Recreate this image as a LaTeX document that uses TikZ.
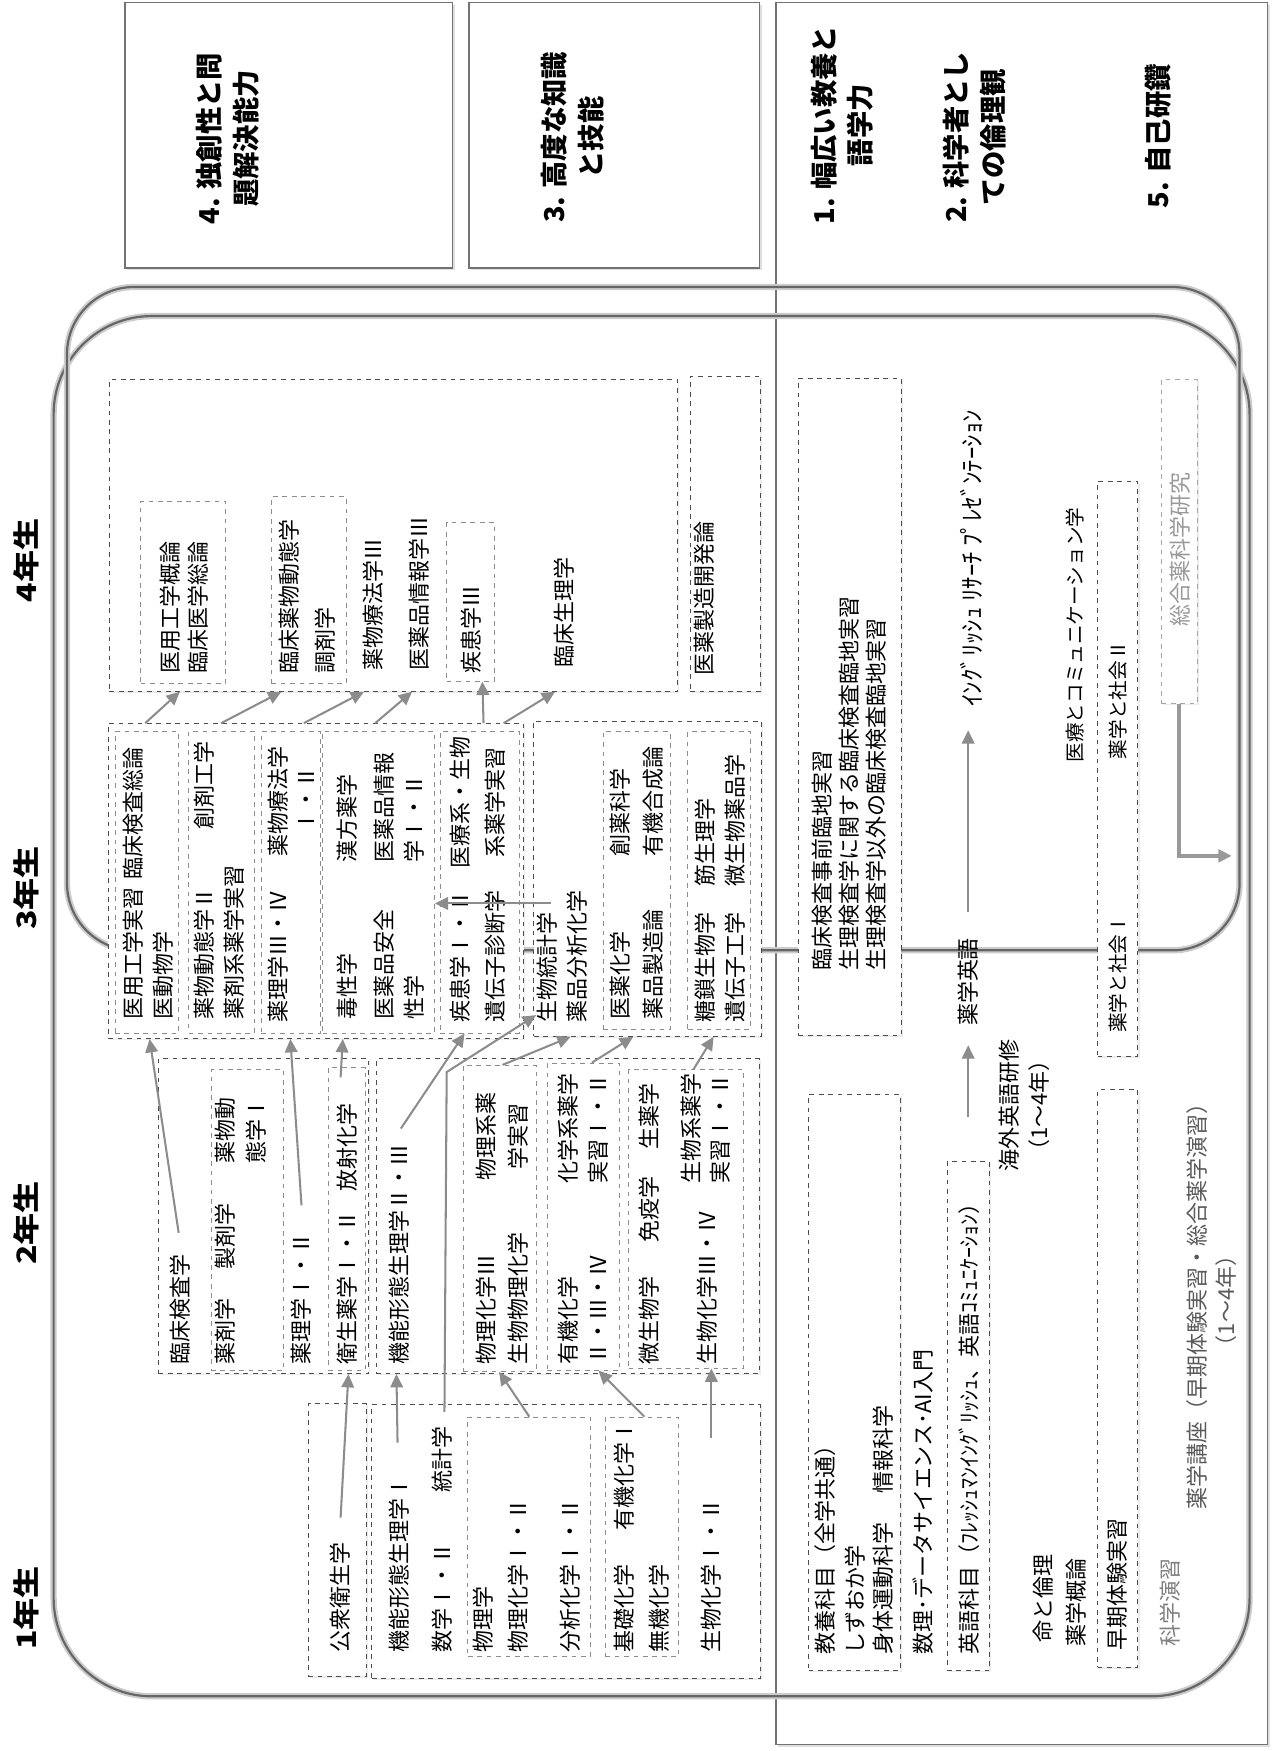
\documentclass[tikz,border=0pt]{standalone}
\usepackage{fontspec}
\setmainfont{Noto Sans CJK JP}
\usetikzlibrary{arrows.meta,fit,calc,shadows}

\newcommand\hdfont{\fontsize{17.4}{23.4}\selectfont\bfseries}
\newcommand\yrfont{\fontsize{17}{20}\selectfont\bfseries}
\newcommand\smfont{\fontsize{12.5}{15}\selectfont}

\begin{document}
\begin{tikzpicture}[x=0.025cm,y=-0.025cm,>={Triangle[length=8.5pt,width=8pt]},
  every node/.style={font=\fontsize{14}{19}\selectfont,inner sep=0pt},
  txt/.style={rotate=90,anchor=west},
  ctr/.style={rotate=90,anchor=center,align=center},
  goal/.style={draw=black!55,line width=0.8pt,fill=white,
    drop shadow={opacity=0.25,shadow xshift=1.5pt,shadow yshift=-1.5pt}},
  ybox/.style={draw=black!70,dashed,line width=0.6pt,fill=white,
    drop shadow={opacity=0.15,shadow xshift=1pt,shadow yshift=-1pt}},
  sbox/.style={draw=black!45,dashed,line width=0.6pt,fill=white},
  yrframe/.style={draw=black!60,line width=1.4pt,
    preaction={draw=black!20,line width=4pt}},
  flow/.style={->,draw=black!45,line width=1.3pt},
  dim/.style={text=black!50}]
\useasboundingbox (0,0) rectangle (1139,1568);

% goals
\node[goal,fit={(112,2) (405,240)}] (goalA) {};
\node[goal,fit={(420,2) (680,240)}] (goalB) {};
\node[goal,fit={(695,2) (1135,1562)}] (goalC) {};
\node[ctr,font=\hdfont] (g4) at (204,124) {4. 独創性と問\\題解決能力};
\node[ctr,font=\hdfont] (g3) at (513,123) {3. 高度な知識\\と技能};
\node[ctr,font=\hdfont] (g1) at (754,112) {1. 幅広い教養と\\語学力};
\node[ctr,font=\hdfont] (g2) at (873,123) {2. 科学者とし\\ての倫理観};
\node[ctr,font=\hdfont] (g5) at (1037,122) {5. 自己研鑽};

% year frames
\draw[yrframe,rounded corners=2.2cm] (48,283) rectangle (1119,1519);
\draw[yrframe,rounded corners=1.5cm] (60,257) rectangle (1110,851);

\node[ctr,font=\yrfont] (yr4) at (24,502) {\scalebox{1.2}[1]{4年生}};
\node[ctr,font=\yrfont] (yr3) at (24,795) {\scalebox{1.2}[1]{3年生}};
\node[ctr,font=\yrfont] (yr2) at (24,1095) {\scalebox{1.2}[1]{2年生}};
\node[ctr,font=\yrfont] (yr1) at (24,1440) {\scalebox{1.2}[1]{1年生}};

% 4th year
\node[ybox,fit={(98,340) (607,619)}] (y4) {};
\node[ybox,fit={(618,337) (681,619)}] (y4dev) {};
\node[sbox,fit={(126,449) (202,612)}] (y4a) {};
\node[sbox,fit={(243,445) (310,612)}] (y4b) {};
\node[sbox,fit={(400,468) (443,610)}] (y4c) {};
\node[txt] (t41) at (152,603) {医用工学概論};
\node[txt] (t42) at (177,603) {臨床医学総論};
\node[txt] (t43) at (259,603) {臨床薬物動態学};
\node[txt] (t44) at (291,603) {調剤学};
\node[txt] (t45) at (334,601) {薬物療法学Ⅲ};
\node[txt] (t46) at (375,601) {医薬品情報学Ⅲ};
\node[txt] (t47) at (422,603) {疾患学Ⅲ};
\node[txt] (t48) at (505,598) {臨床生理学};
\node[txt] (t49) at (631,605) {医薬製造開発論};

% 3rd year
\node[ybox,fit={(97,648) (469,930)}] (y3L) {};
\node[ybox,fit={(478,646) (682,928)}] (y3R) {};
\node[sbox,fit={(103,655) (160,925)}] (y3a) {};
\node[sbox,fit={(169,655) (228,925)}] (y3b) {};
\node[sbox,fit={(234,655) (287,925)}] (y3c) {};
\node[sbox,fit={(289,655) (389,925)}] (y3d) {};
\node[sbox,fit={(394,655) (465,925)}] (y3e) {};
\node[sbox,fit={(540,655) (600,922)}] (y3f) {};
\node[sbox,fit={(616,655) (672,922)}] (y3g) {};
\node[txt] (t31) at (119,913) {医用工学実習};
\node[txt] (t32) at (119,788) {臨床検査総論};
\node[txt] (t33) at (146,913) {医動物学};
\node[txt] (t34) at (183,913) {薬物動態学Ⅱ};
\node[txt] (t35) at (183,743) {創剤工学};
\node[txt] (t36) at (210,913) {薬剤系薬学実習};
\node[txt] (t37) at (249,916) {薬理学Ⅲ・Ⅳ};
\node[txt] (t38) at (249,767) {薬物療法学};
\node[ctr] (t39) at (274,716) {Ⅰ・Ⅱ};
\node[txt] (t310) at (311,913) {毒性学};
\node[txt] (t311) at (344,913) {医薬品安全};
\node[txt] (t312) at (371,913) {性学};
\node[txt] (t313) at (311,773) {漢方薬学};
\node[txt] (t314) at (344,773) {医薬品情報};
\node[txt] (t315) at (371,773) {学Ⅰ・Ⅱ};
\node[txt] (t316) at (412,916) {疾患学Ⅰ・Ⅱ};
\node[txt] (t317) at (443,916) {遺伝子診断学};
\node[ctr] (t318) at (412,719) {医療系・生物};
\node[ctr] (t319) at (443,719) {系薬学実習};
\node[txt] (t320) at (490,916) {生物統計学};
\node[txt] (t321) at (517,916) {薬品分析化学};
\node[txt] (t322) at (555,913) {医薬化学};
\node[txt] (t323) at (555,767) {創薬科学};
\node[txt] (t324) at (585,913) {薬品製造論};
\node[txt] (t325) at (585,767) {有機合成論};
\node[txt] (t326) at (631,916) {糖鎖生物学};
\node[txt] (t327) at (631,794) {筋生理学};
\node[txt] (t328) at (658,916) {遺伝子工学};
\node[txt] (t329) at (658,794) {微生物薬品学};

% 2nd year
\node[ybox,fit={(142,948) (330,1230)}] (y2L) {};
\node[ybox,fit={(337,948) (680,1230)}] (y2R) {};
\node[sbox,fit={(189,958) (254,1227)}] (y2a) {};
\node[sbox,fit={(294,956) (327,1227)}] (y2b) {};
\node[sbox,fit={(415,954) (480,1228)}] (y2c) {};
\node[sbox,fit={(490,952) (555,1227)}] (y2d) {};
\node[sbox,fit={(563,958) (666,1225)}] (y2e) {};
\node[txt] (t21) at (161,1222) {臨床検査学};
\node[txt] (t22) at (202,1222) {薬剤学};
\node[txt] (t23) at (202,1137) {製剤学};
\node[txt] (t24) at (202,1042) {薬物動};
\node[txt] (t25) at (229,1042) {態学Ⅰ};
\node[txt] (t26) at (270,1222) {薬理学Ⅰ・Ⅱ};
\node[txt] (t27) at (311,1222) {衛生薬学Ⅰ・Ⅱ};
\node[txt] (t28) at (311,1067) {放射化学};
\node[txt] (t29) at (357,1222) {機能形態生理学Ⅱ・Ⅲ};
\node[txt] (t210) at (435,1222) {物理化学Ⅲ};
\node[txt] (t211) at (464,1222) {生物物理化学};
\node[ctr] (t212) at (435,1018) {物理系薬};
\node[ctr] (t213) at (464,1018) {学実習};
\node[txt] (t214) at (509,1222) {有機化学};
\node[txt] (t215) at (536,1222) {Ⅱ・Ⅲ・Ⅳ};
\node[txt] (t216) at (509,1060) {化学系薬学};
\node[txt] (t217) at (536,1060) {実習Ⅰ・Ⅱ};
\node[txt] (t218) at (581,1222) {微生物学};
\node[txt] (t219) at (581,1113) {免疫学};
\node[txt] (t220) at (581,1030) {生薬学};
\node[txt] (t221) at (633,1222) {生物化学Ⅲ・Ⅳ};
\node[txt] (t222) at (619,1060) {生物系薬学};
\node[txt] (t223) at (645,1060) {実習Ⅰ・Ⅱ};

% 1st year
\node[ybox,fit={(276,1257) (328,1501)}] (y1pub) {};
\node[ybox,fit={(333,1258) (681,1503)}] (y1) {};
\node[sbox,fit={(419,1269) (529,1483)}] (y1a) {};
\node[sbox,fit={(542,1269) (608,1483)}] (y1b) {};
\node[txt] (t11) at (305,1480) {公衆衛生学};
\node[txt] (t12) at (357,1480) {機能形態生理学Ⅰ};
\node[txt] (t13) at (396,1480) {数学Ⅰ・Ⅱ};
\node[txt] (t14) at (396,1337) {統計学};
\node[txt] (t15) at (433,1480) {物理学};
\node[txt] (t16) at (464,1480) {物理化学Ⅰ・Ⅱ};
\node[txt] (t17) at (511,1480) {分析化学Ⅰ・Ⅱ};
\node[txt] (t18) at (559,1480) {基礎化学};
\node[txt] (t19) at (559,1371) {有機化学Ⅰ};
\node[txt] (t110) at (590,1480) {無機化学};
\node[txt] (t111) at (637,1480) {生物化学Ⅰ・Ⅱ};

% common / language / society
\node[ybox,fit={(715,339) (807,927)}] (clin) {};
\node[ybox,fit={(983,431) (1019,946)}] (soc) {};
\node[ybox,draw=black!35,fit={(1040,340) (1072,630)}] (res) {};
\node[ybox,fit={(724,980) (806,1496)}] (lib) {};
\node[ybox,fit={(848,1040) (886,1496)}] (eng) {};
\node[ybox,fit={(983,976) (1019,1493)}] (early) {};
\node[txt] (tc1) at (736,869) {臨床検査事前臨地実習};
\node[txt] (tc2) at (760,869) {生理検査学に関する臨床検査臨地実習};
\node[txt] (tc3) at (785,869) {生理検査学以外の臨床検査臨地実習};
\node[txt,font=\fontsize{15.8}{19}\selectfont] (tirp) at (870,633) {ｲﾝｸﾞﾘｯｼｭ ﾘｻｰﾁ ﾌﾟﾚｾﾞﾝﾃｰｼｮﾝ};
\node[txt] (tpe) at (867,919) {薬学英語};
\node[ctr] (tabr) at (917,990) {海外英語研修\\（1～4年）};
\node[txt,font=\smfont] (tcom) at (963,683) {医療とコミュニケーション学};
\node[txt,font=\smfont] (tsoc2) at (1001,680) {薬学と社会Ⅱ};
\node[txt,font=\smfont] (tsoc1) at (1001,925) {薬学と社会Ⅰ};
\node[txt,text=black!40] (tres) at (1057,561) {総合薬科学研究};
\node[txt] (tlib1) at (739,1482) {教養科目（全学共通）};
\node[txt] (tlib2) at (766,1482) {しずおか学};
\node[txt] (tlib3) at (791,1482) {身体運動科学};
\node[txt] (tlib4) at (791,1338) {情報科学};
\node[txt] (tds) at (827,1482) {数理･データサイエンス･AI入門};
\node[txt] (teng) at (868,1482) {英語科目（ﾌﾚｯｼｭﾏﾝｲﾝｸﾞﾘｯｼｭ、英語ｺﾐｭﾆｹｰｼｮﾝ）};
\node[txt] (tlife) at (934,1471) {命と倫理};
\node[txt] (tintro) at (964,1475) {薬学概論};
\node[txt] (tearly) at (1000,1478) {早期体験実習};
\node[txt,dim] (tsci) at (1048,1475) {科学演習};
\node[ctr,text=black!65] (tsem) at (1085,1165) {薬学講座（早期体験実習・総合薬学演習）\\（1～4年）};

% 3rd -> 4th
\draw[flow] (130,0 |- y3L.north) -- (161,0 |- y4.south);
\draw[flow] (198,0 |- y3L.north) -- (252,0 |- y4.south);
\draw[flow] (272,0 |- y3L.north) -- (326,0 |- y4.south);
\draw[flow] (336,0 |- y3L.north) -- (369,0 |- y4.south);
\draw[flow] (433,0 |- y3L.north) -- (432,0 |- y4c.south);
\draw[flow] (451,0 |- y3L.north) -- (497,0 |- y4.south);
\coordinate (bio) at ($(t320.east)+(3,-8)$);
\draw[flow] (bio) -- (bio -| y3d.east);
% 2nd -> 3rd
\draw[flow] ($(t21.east)+(-1,-19)$) -- (134,0 |- y3L.south);
\draw[flow] ($(t26.east)+(0,-24)$) -- (260,0 |- y3L.south);
\draw[flow] ($(t28.east)+(-6,-23)$) -- (307,0 |- y3L.south);
\draw[flow] ($(t29.east)+(2,-14)$) -- (416,0 |- y3e.south);
\draw[flow] ($(t14.east)+(2,-13)$) -- (400,960) -- ($(t320.west)+(-10,-7)$);
\draw[flow] (450,0 |- y2c.north) -- (511,0 |- y3R.south);
\draw[flow] (530,0 |- y2d.north) -- (567,0 |- y3R.south);
\draw[flow] (621,0 |- y2e.north) -- (639,0 |- y3R.south);
% 1st -> 2nd
\draw[flow] ($(t11.east)+(0,-22)$) -- (312,0 |- y2L.south);
\draw[flow] ($(t12.east)+(-1,-30)$) -- (355,0 |- y2R.south);
\draw[flow] (474,0 |- y1a.north) -- (447,0 |- y2c.south);
\draw[flow] (577,0 |- y1b.north) -- (536,0 |- y2d.south);
\draw[flow] ($(t111.east)+(0,-54)$) -- (637,0 |- y2e.south);
% language line
\draw[flow] ($(tpe.east)+(0,-23)$) -- ($(tirp.west)+(-3,21)$);
\draw[flow] ($(tpe.west |- tabr.center)+(0,10)$) -- ($(tpe.west)+(0,17)$);
\draw[flow,line width=2.4pt,draw=black!40] (res.south) -- ++(0,136) -- ++(47,0);
\end{tikzpicture}
\end{document}
